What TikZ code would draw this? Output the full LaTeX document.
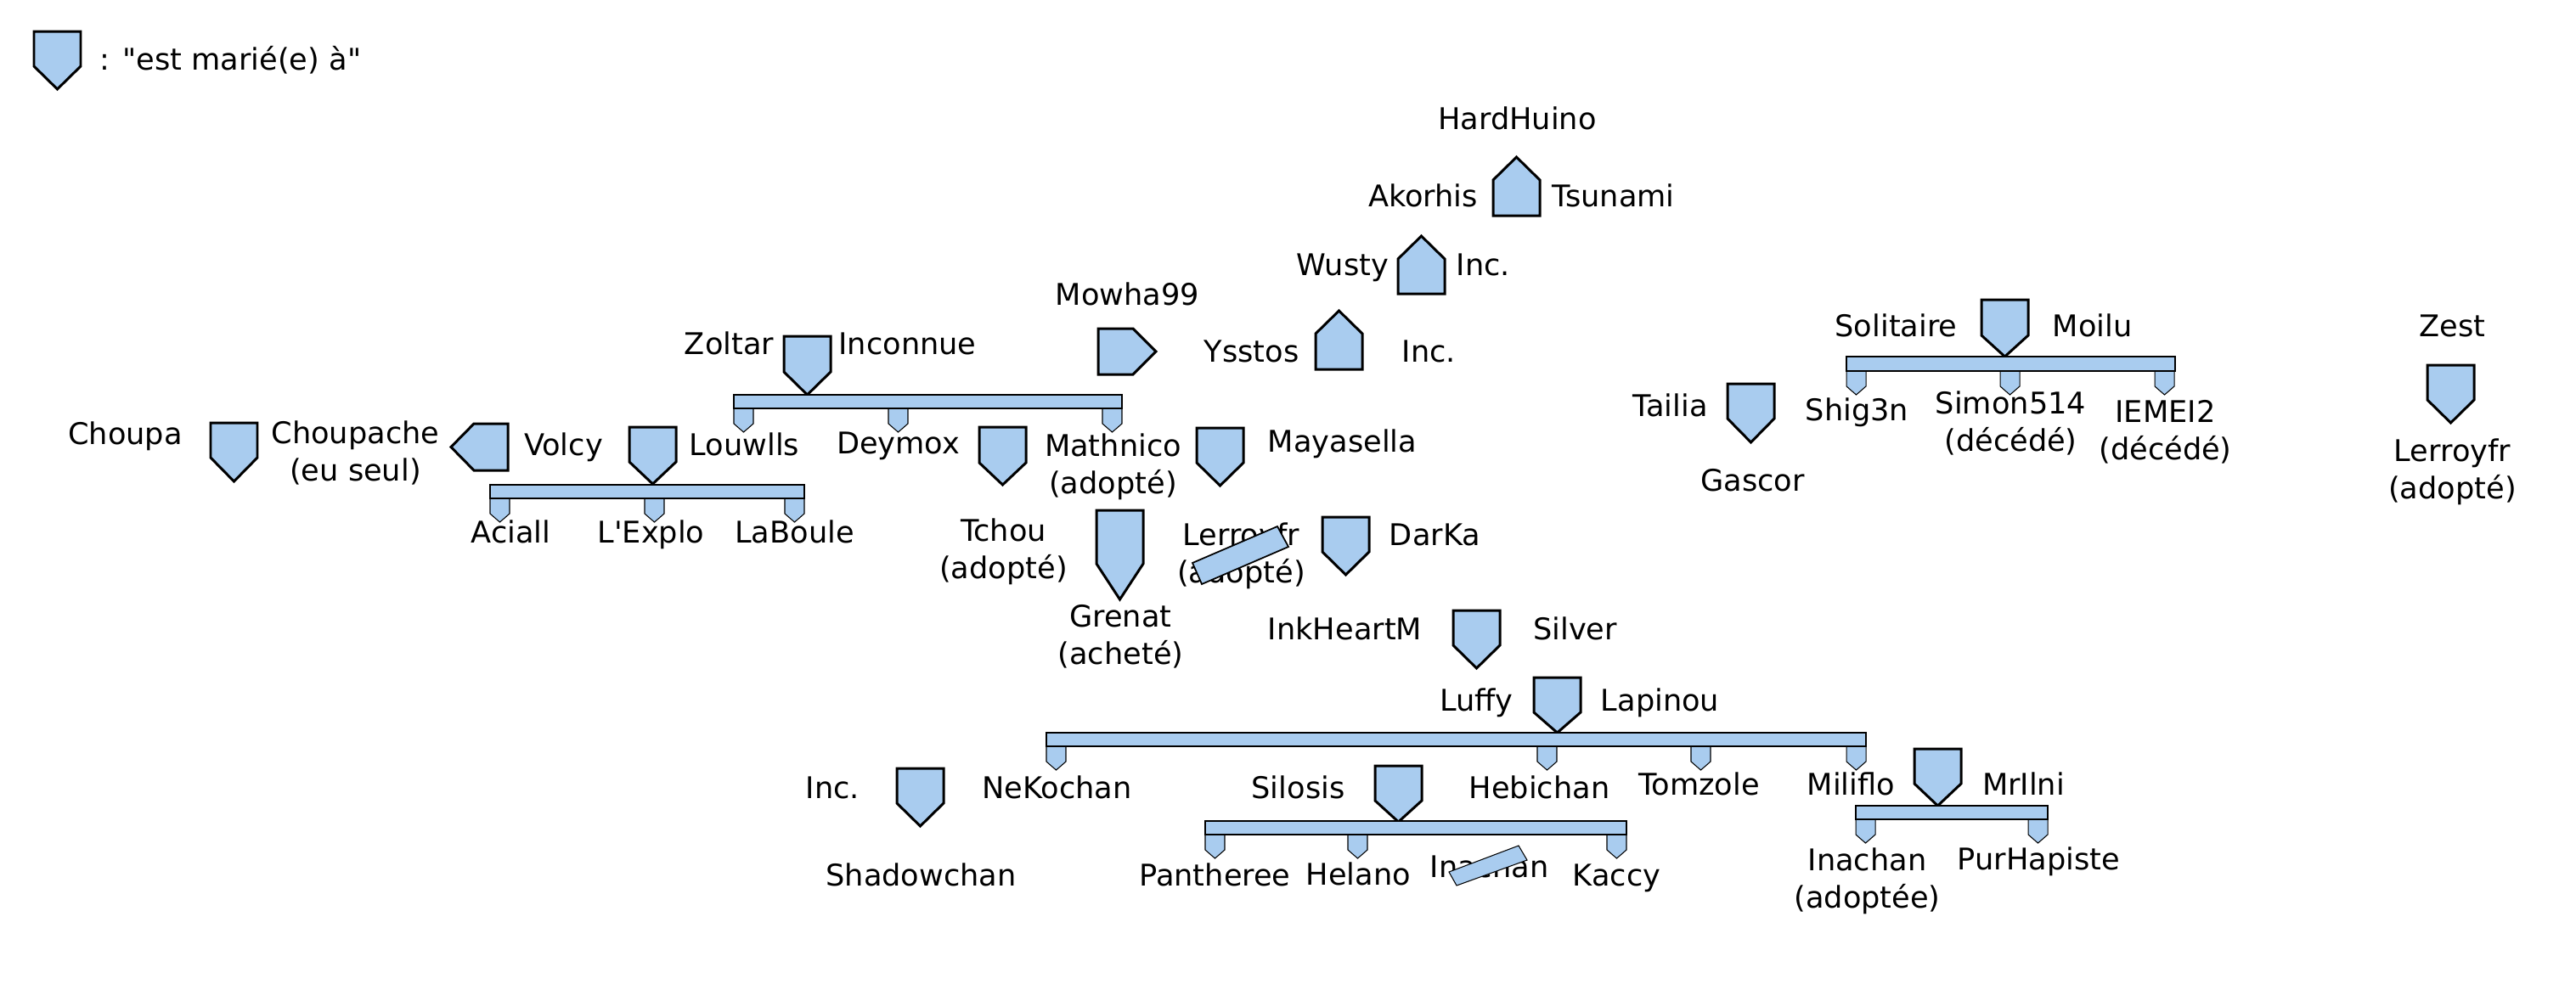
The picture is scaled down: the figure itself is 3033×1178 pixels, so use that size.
\documentclass[tikz,border=0pt]{standalone}
\usepackage{fontspec}
\newfontfamily\dejavu{DejaVu Sans}
\usepackage{xcolor}
\definecolor{blason}{HTML}{A9CCEF}

\begin{document}
\begin{tikzpicture}[
    x=0.01cm,y=-0.01cm,
    lbl/.style={anchor=base,inner sep=0pt,align=center,xshift=0.015cm,yshift=-0.01cm,font=\dejavu\fontsize{10}{12.24}\selectfont},
    shield/.style={draw,fill=blason,line width=0.85pt,line join=miter},
    bar/.style={draw,fill=blason,line width=0.5pt},
    kid/.style={draw,fill=blason,line width=0.3pt}
  ]
    \useasboundingbox (0,0) rectangle (3033,1178);
    % names
    \foreach \nm/\px/\py/\txt in {
      legend/270/81/{: "est marié(e) à"},
      hardhuino/1785/151/HardHuino, akorhis/1674/242/Akorhis, tsunami/1898/242/Tsunami,
      wusty/1579/323/Wusty, incwusty/1745/323/Inc., mowha/1326/358/Mowha99,
      ysstos/1472/425/Ysstos, incysstos/1681/425/Inc.,
      zoltar/857/416/Zoltar, inconnue/1067/416/Inconnue,
      choupa/146/522/Choupa, choupache/417/565/{Choupache\\(eu seul)},
      volcy/662/535/Volcy, louwlls/875/535/Louwlls,
      aciall/600/638/Aciall, lexplo/765/638/L'Explo, laboule/934/638/LaBoule,
      deymox/1056/533/Deymox, mathnico/1309/580/{Mathnico\\(adopté)}, mayasella/1579/531/Mayasella,
      tchou/1180/680/{Tchou\\(adopté)}, lerroyg/1460/685/{Lerroyfr\\(adopté)}, darka/1688/641/DarKa,
      grenat/1318/781/{Grenat\\(acheté)}, inkheart/1582/752/InkHeartM, silver/1853/752/Silver,
      luffy/1737/836/Luffy, lapinou/1953/836/Lapinou,
      incneko/979/939/Inc., nekochan/1243/939/NeKochan, silosis/1527/939/Silosis,
      hebichan/1811/939/Hebichan, tomzole/1999/935/Tomzole, miliflo/2178/935/Miliflo, mrilni/2381/935/MrIlni,
      shadow/1083/1042/Shadowchan, pantheree/1429/1042/Pantheree, helano/1598/1041/Helano,
      inachang/1752/1032/Inachan, kaccy/1902/1042/Kaccy,
      inachand/2197/1068/{Inachan\\(adoptée)}, purhapiste/2399/1023/PurHapiste,
      solitaire/2231/395/Solitaire, moilu/2462/395/Moilu,
      shig/2185/494/Shig3n, simon/2366/530/{Simon514\\(décédé)}, iemei/2548/540/{IEMEI2\\(décédé)},
      tailia/1965/489/Tailia, gascor/2062/577/Gascor,
      zest/2886/395/Zest, lerroyd/2886/586/{Lerroyfr\\(adopté)}}
      \node[lbl] (\nm) at (\px,\py) {\txt};
    % shields, point down
    \foreach \xl/\yt/\ys/\yb in {
      40/37/78/105, 923/396/438/465, 248/498/539/567, 741/503/544/570,
      1153/503/545/571, 1409/504/545/572, 1291/601/664/706, 1557/609/650/677,
      1711/719/760/787, 1806/798/839/863, 1056/905/946/973, 1619/902/943/968,
      2254/882/923/949, 2333/353/395/420, 2034/452/493/521, 2858/430/471/498}
      \draw[shield] (\xl,\yt) -- ++(55,0) -- (\xl+55,\ys) -- (\xl+27.5,\yb) -- (\xl,\ys) -- cycle;
    % shields, point up
    \foreach \xl/\yt/\ys/\yb in {1758/185/212/254, 1646/278/305/346, 1549/366/393/435}
      \draw[shield] (\xl,\yb) -- ++(55,0) -- (\xl+55,\ys) -- (\xl+27.5,\yt) -- (\xl,\ys) -- cycle;
    % shields, sideways
    \draw[shield] (598,499) -- (598,554) -- (558,554) -- (531,526.5) -- (558,499) -- cycle;
    \draw[shield] (1293,387) -- (1293,441) -- (1334,441) -- (1361,414) -- (1334,387) -- cycle;
    % children
    \foreach \xl/\yt in {
      864/481, 1046/481, 1298/481, 577/587, 759/587, 924/587,
      1232/879, 1810/879, 1991/879, 2174/879, 1419/983, 1587/983, 1892/983,
      2185/965, 2388/965, 2174/437, 2355/437, 2537/437}
      \draw[kid] (\xl,\yt) -- ++(23,0) -- ++(0,18) -- ++(-11.5,10) -- ++(-11.5,-10) -- cycle;
    % bars
    \foreach \xl/\yt/\xr/\yb in {
      864/465/1321/481, 577/571/947/587, 1232/863/2197/879, 1419/967/1915/983,
      2185/949/2411/965, 2174/420/2561/437}
      \draw[bar] (\xl,\yt) rectangle (\xr,\yb);
    % crossed out
    \draw[bar] (1404,663) -- (1504,620) -- (1517,644) -- (1415,688) -- cycle;
    \draw[kid] (1706,1027) -- (1788,996) -- (1798,1013) -- (1715,1043) -- cycle;
  \end{tikzpicture}
\end{document}
